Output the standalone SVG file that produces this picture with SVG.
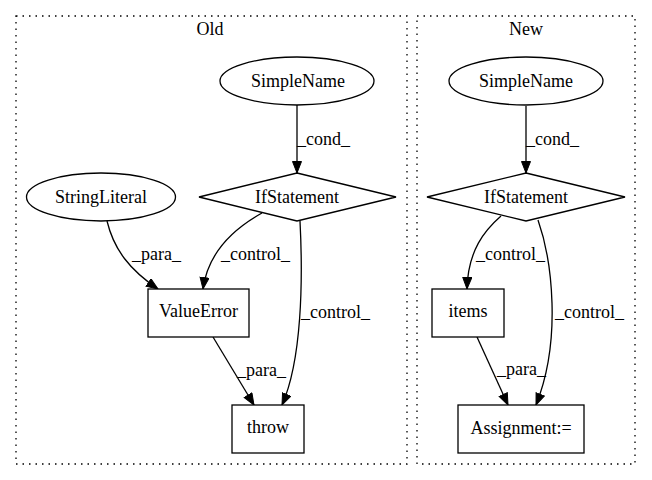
<svg xmlns="http://www.w3.org/2000/svg" width="652" height="480" viewBox="0 0 652 480">
<style>
text{font-family:"Liberation Serif","Times New Roman",serif;font-size:18px;fill:#000}
.c{text-anchor:middle}
.n{fill:#fff;stroke:#000;stroke-width:1.3}
.cl{fill:none;stroke:#000;stroke-width:1.3;stroke-dasharray:1.5,5}
.e{fill:none;stroke:#000;stroke-width:1.3}
</style>
<defs>
<marker id="ah" markerUnits="userSpaceOnUse" markerWidth="14" markerHeight="12" refX="12" refY="5" orient="auto">
<path d="M0.5,0.5 L12,5 L0.5,9.5 z" fill="#000" stroke="#000" stroke-width="1"/>
</marker>
</defs>
<rect width="652" height="480" fill="#fff"/>
<g id="cluster_old">
<rect class="cl" x="16" y="16" width="391" height="448"/>
<text class="c" x="210" y="35">Old</text>
</g>
<g id="cluster_new">
<rect class="cl" x="417" y="16" width="218" height="448"/>
<text class="c" x="526" y="35">New</text>
</g>
<g id="edges">
<path class="e" marker-end="url(#ah)" d="M297,105 L297,173"/>
<text x="297" y="145">_cond_</text>
<path class="e" marker-end="url(#ah)" d="M107,221 C114,250 130,270 158,289"/>
<text x="132" y="260">_para_</text>
<path class="e" marker-end="url(#ah)" d="M262,213 C235,228 208,252 203,289"/>
<text x="221" y="260">_control_</text>
<path class="e" marker-end="url(#ah)" d="M300,221 C303,280 302,360 282,405"/>
<text x="301" y="318">_control_</text>
<path class="e" marker-end="url(#ah)" d="M213,337 L254,405"/>
<text x="237" y="376">_para_</text>
<path class="e" marker-end="url(#ah)" d="M526,106 L526,173"/>
<text x="526" y="145">_cond_</text>
<path class="e" marker-end="url(#ah)" d="M501,216 C485,230 468,250 467,289"/>
<text x="476" y="260">_control_</text>
<path class="e" marker-end="url(#ah)" d="M538,220 C552,260 562,340 536,405"/>
<text x="555" y="318">_control_</text>
<path class="e" marker-end="url(#ah)" d="M477,337 L508,405"/>
<text x="497" y="375">_para_</text>
</g>
<g id="old_simplename">
<ellipse class="n" cx="297" cy="81" rx="77" ry="24"/>
<text class="c" x="298" y="87">SimpleName</text>
</g>
<g id="old_ifstatement">
<polygon class="n" points="297,173 396,197 297,221 199,197"/>
<text class="c" x="297" y="203">IfStatement</text>
</g>
<g id="old_stringliteral">
<ellipse class="n" cx="101" cy="197" rx="74.5" ry="24"/>
<text class="c" x="101" y="203">StringLiteral</text>
</g>
<g id="old_valueerror">
<rect class="n" x="148" y="289" width="101" height="48"/>
<text class="c" x="198.5" y="317">ValueError</text>
</g>
<g id="old_throw">
<rect class="n" x="232" y="405" width="72" height="48"/>
<text class="c" x="268" y="433">throw</text>
</g>
<g id="new_simplename">
<ellipse class="n" cx="526" cy="81" rx="77" ry="24"/>
<text class="c" x="526" y="87">SimpleName</text>
</g>
<g id="new_ifstatement">
<polygon class="n" points="526,173 625,197 526,221 427,197"/>
<text class="c" x="526" y="203">IfStatement</text>
</g>
<g id="new_items">
<rect class="n" x="432" y="289" width="72" height="48"/>
<text class="c" x="468" y="317">items</text>
</g>
<g id="new_assignment">
<rect class="n" x="458" y="405" width="126" height="48"/>
<text class="c" x="521" y="434">Assignment:=</text>
</g>
</svg>
